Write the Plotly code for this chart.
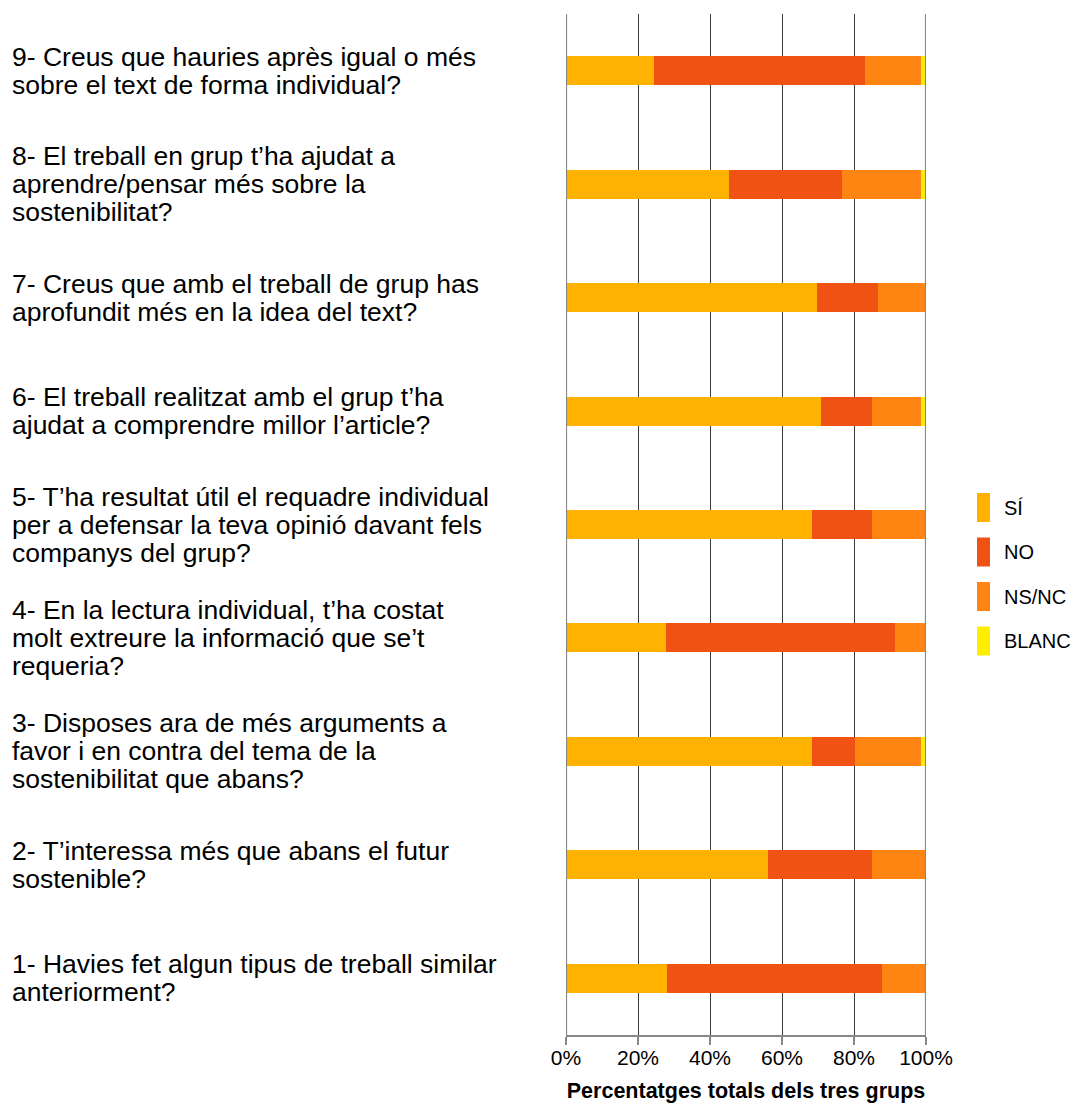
import plotly.graph_objects as go

categories = [
    "1- Havies fet algun tipus de treball similar<br>anteriorment?",
    "2- T’interessa més que abans el futur<br>sostenible?",
    "3- Disposes ara de més arguments a<br>favor i en contra del tema de la<br>sostenibilitat que abans?",
    "4- En la lectura individual, t’ha costat<br>molt extreure la informació que se’t<br>requeria?",
    "5- T’ha resultat útil el requadre individual<br>per a defensar la teva opinió davant fels<br>companys del grup?",
    "6- El treball realitzat amb el grup t’ha<br>ajudat a comprendre millor l’article?",
    "7- Creus que amb el treball de grup has<br>aprofundit més en la idea del text?",
    "8- El treball en grup t’ha ajudat a<br>aprendre/pensar més sobre la<br>sostenibilitat?",
    "9- Creus que hauries après igual o més<br>sobre el text de forma individual?",
]

si    = [28.1, 56.1, 68.4, 27.9, 68.4, 70.7, 69.7, 45.4, 24.4]
no    = [59.6, 29.0, 12.0, 63.6, 16.7, 14.4, 16.9, 31.4, 58.7]
nsnc  = [12.3, 14.9, 18.3,  8.5, 14.9, 13.6, 13.4, 21.9, 15.6]
blanc = [ 0.0,  0.0,  1.3,  0.0,  0.0,  1.3,  0.0,  1.3,  1.3]

series_names = ["SÍ", "NO", "NS/NC", "BLANC"]
series_values = [si, no, nsnc, blanc]
colors = ["#FFB200", "#F05214", "#FF8512", "#FFEE00"]

tick_vals = [0, 20, 40, 60, 80, 100]
tick_text = ["0%", "20%", "40%", "60%", "80%", "100%"]

W, H = 1073, 1104
ML, MR, MT, MB = 566, 147, 14, 69
FONT = "Arial, Liberation Sans, Helvetica, sans-serif"
plot_w = W - ML - MR
plot_h = H - MT - MB

def px_to_paper_x(px):
    return (px - ML) / plot_w

def px_to_paper_y(py):
    return 1 - (py - MT) / plot_h

fig = go.Figure()
for name, vals, col in zip(series_names, series_values, colors):
    fig.add_trace(go.Bar(
        y=categories, x=vals, name=name, orientation="h",
        marker=dict(color=col, line=dict(width=0)),
        width=0.256, showlegend=False,
        hovertemplate="%{x}%<extra>" + name + "</extra>",
    ))

label_x = px_to_paper_x(10)
line_gap = 28
annotations = []
for cat in categories:
    lines = cat.split("<br>")
    n = len(lines)
    for j, ln in enumerate(lines):
        annotations.append(dict(
            xref="paper", yref="y", x=label_x, y=cat, text=ln,
            xanchor="left", yanchor="middle", align="left", showarrow=False,
            yshift=-(j - (n - 1) / 2) * line_gap,
            font=dict(family=FONT, size=26.5, color="#000000"),
        ))

# custom legend: tall narrow swatches
shapes = []
leg_y0 = 507.5
leg_gap = 44.5
for k, (name, col) in enumerate(zip(series_names, colors)):
    cy = leg_y0 + k * leg_gap
    shapes.append(dict(
        type="rect", xref="paper", yref="paper",
        x0=px_to_paper_x(977), x1=px_to_paper_x(990),
        y0=px_to_paper_y(cy + 14.5), y1=px_to_paper_y(cy - 14.5),
        fillcolor=col, line=dict(width=0), layer="above",
    ))
    annotations.append(dict(
        xref="paper", yref="paper", x=px_to_paper_x(1002), y=px_to_paper_y(cy),
        text=name, xanchor="left", yanchor="middle", showarrow=False,
        font=dict(family=FONT, size=20, color="#000000"),
    ))

for v in (tick_vals[0], tick_vals[-1]):
    shapes.append(dict(type="line", xref="x", yref="paper", x0=v, x1=v, y0=0, y1=1,
                       line=dict(color="#888888", width=2.2), layer="above"))

fig.update_layout(
    width=W, height=H,
    margin=dict(l=ML, r=MR, t=MT, b=MB, pad=0, autoexpand=False),
    barmode="stack",
    plot_bgcolor="white", paper_bgcolor="white",
    font=dict(family=FONT, color="#000000"),
    showlegend=False,
    annotations=annotations,
    shapes=shapes,
    xaxis=dict(
        range=[0, 100], tickvals=tick_vals, ticktext=tick_text,
        showgrid=True, gridcolor="#3a3a3a", gridwidth=1.3,
        zeroline=False,
        showline=True, linecolor="#888888", linewidth=2, mirror=False,
        ticks="outside", ticklen=8, tickwidth=2, tickcolor="#888888",
        ticklabelstandoff=-5,
        tickfont=dict(family=FONT, size=21, color="#000000"),
        title=dict(text="<b>Percentatges totals dels tres grups</b>",
                   font=dict(family=FONT, size=21.5, color="#000000"), standoff=15),
        automargin=False,
    ),
    yaxis=dict(
        categoryorder="array", categoryarray=categories,
        range=[-0.5, 8.5], showticklabels=False, showgrid=False,
        zeroline=False, showline=False, ticks="", automargin=False,
    ),
)

fig.write_html(
    "out.html",
    config={"displayModeBar": False},
    post_script="document.body.style.margin='0';document.body.style.overflow='hidden';",
)
